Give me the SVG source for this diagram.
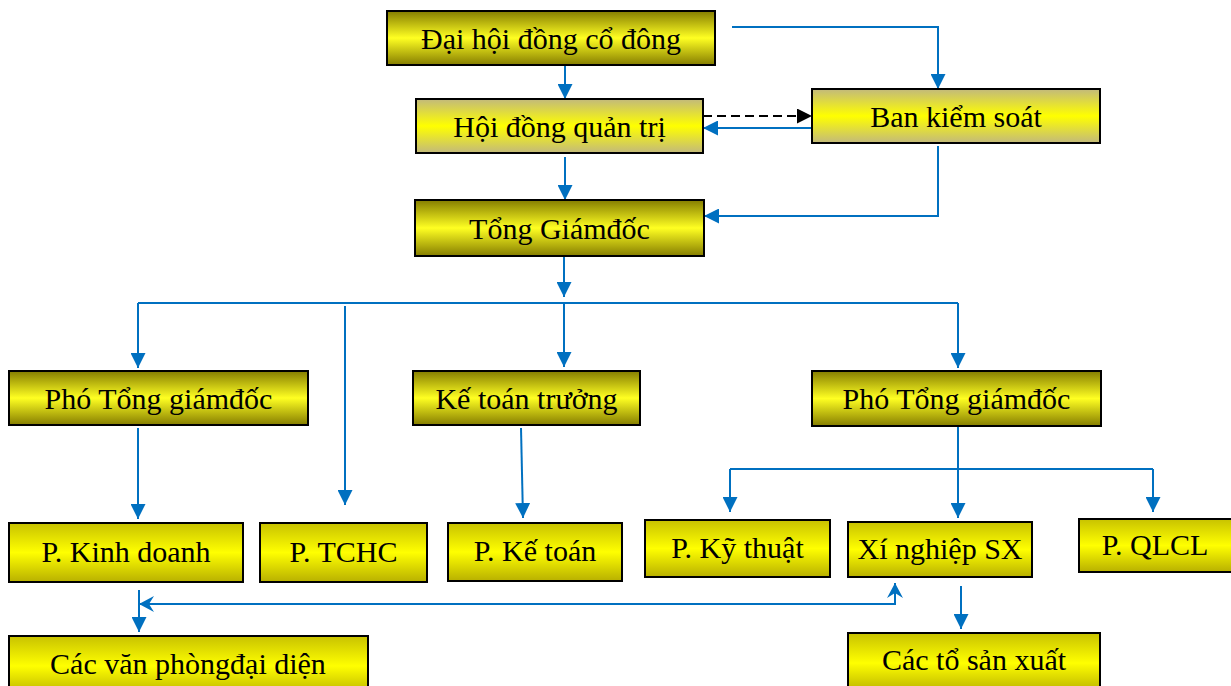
<svg xmlns="http://www.w3.org/2000/svg" width="1231" height="686" viewBox="0 0 1231 686">
<defs>
<style>
.box{stroke:#000;stroke-width:2}
.t{font-family:"Liberation Serif","Times New Roman",serif;font-size:30px;fill:#000;text-anchor:middle}
.c{fill:none;stroke:#0070c0;stroke-width:2}
.cb{marker-end:url(#ab)}
.d{fill:none;stroke:#000;stroke-width:2;stroke-dasharray:9 5;marker-end:url(#ak)}
</style>
<linearGradient id="gO" x1="0" y1="0" x2="0" y2="1">
<stop offset="0" stop-color="#857d00"/><stop offset="0.5" stop-color="#ffff22"/><stop offset="1" stop-color="#857d00"/>
</linearGradient>
<linearGradient id="gK" x1="0" y1="0" x2="0" y2="1">
<stop offset="0" stop-color="#c2b97c"/><stop offset="0.5" stop-color="#ffff00"/><stop offset="1" stop-color="#c2b97c"/>
</linearGradient>
<linearGradient id="gY" x1="0" y1="0" x2="0" y2="1">
<stop offset="0" stop-color="#c8c200"/><stop offset="0.5" stop-color="#ffff00"/><stop offset="1" stop-color="#b8b000"/>
</linearGradient>
<marker id="ab" markerUnits="userSpaceOnUse" markerWidth="15" markerHeight="15" refX="15" refY="7.5" orient="auto">
<path d="M0,0 L15,7.5 L0,15 z" fill="#0070c0"/>
</marker>
<marker id="ak" markerUnits="userSpaceOnUse" markerWidth="15" markerHeight="15" refX="15" refY="7.5" orient="auto">
<path d="M0,0 L15,7.5 L0,15 z" fill="#000"/>
</marker>
<marker id="as" markerUnits="userSpaceOnUse" markerWidth="16" markerHeight="16" refX="15" refY="8" orient="auto-start-reverse">
<path d="M0,0 L15,8 L0,16 L5,8 z" fill="#0070c0"/>
</marker>
</defs>

<g id="connectors">
<path class="c cb" d="M565 55 V99"/>
<path class="c cb" d="M732 27 H938 V89"/>
<path class="d" d="M703 116 H812"/>
<path class="c cb" d="M812 128 H703"/>
<path class="c cb" d="M938 146 V216 H704"/>
<path class="c cb" d="M565 157 V200"/>
<path class="c cb" d="M564 256 V297"/>
<path class="c" d="M138 303 H958"/>
<path class="c cb" d="M138 303 V368"/>
<path class="c cb" d="M345 306 V505"/>
<path class="c cb" d="M564 303 V367"/>
<path class="c cb" d="M958 303 V368"/>
<path class="c cb" d="M138 428 V519"/>
<path class="c cb" d="M521 428 L523 518"/>
<path class="c cb" d="M958 426 V518"/>
<path class="c" d="M730 469 H1153"/>
<path class="c cb" d="M730 469 V512"/>
<path class="c cb" d="M1153 469 V512"/>
<path class="c cb" d="M961 586 V629"/>
<path class="c cb" d="M139 590 V632"/>
<path class="c" d="M895 583 V604 H139" marker-start="url(#as)" marker-end="url(#as)"/>
</g>

<g id="n-dhdcd"><rect class="box" x="387" y="11" width="328" height="54" fill="url(#gO)"/><text class="t" x="551" y="49">Đại hội đồng cổ đông</text></g>
<g id="n-hdqt"><rect class="box" x="416" y="99" width="287" height="54" fill="url(#gK)"/><text class="t" x="559.5" y="137">Hội đồng quản trị</text></g>
<g id="n-bks"><rect class="box" x="812" y="89" width="288" height="54" fill="url(#gK)"/><text class="t" x="956" y="127">Ban kiểm soát</text></g>
<g id="n-tgd"><rect class="box" x="415" y="200" width="289" height="56" fill="url(#gO)"/><text class="t" x="559.5" y="239">Tổng Giámđốc</text></g>
<g id="n-ptgd1"><rect class="box" x="9" y="371" width="299" height="54" fill="url(#gO)"/><text class="t" x="158.5" y="409">Phó Tổng giámđốc</text></g>
<g id="n-ktt"><rect class="box" x="413" y="371" width="227" height="54" fill="url(#gO)"/><text class="t" x="526.5" y="409">Kế toán trưởng</text></g>
<g id="n-ptgd2"><rect class="box" x="812" y="371" width="289" height="55" fill="url(#gO)"/><text class="t" x="956.5" y="409">Phó Tổng giámđốc</text></g>
<g id="n-pkd"><rect class="box" x="9" y="523" width="234" height="59" fill="url(#gY)"/><text class="t" x="126" y="562">P. Kinh doanh</text></g>
<g id="n-ptchc"><rect class="box" x="260" y="523" width="167" height="59" fill="url(#gY)"/><text class="t" x="343.5" y="562">P. TCHC</text></g>
<g id="n-pkt"><rect class="box" x="448" y="523" width="174" height="58" fill="url(#gY)"/><text class="t" x="535" y="561">P. Kế toán</text></g>
<g id="n-pkth"><rect class="box" x="645" y="520" width="185" height="57" fill="url(#gY)"/><text class="t" x="737.5" y="558">P. Kỹ thuật</text></g>
<g id="n-xnsx"><rect class="box" x="848" y="522" width="184" height="55" fill="url(#gY)"/><text class="t" x="940" y="559">Xí nghiệp SX</text></g>
<g id="n-pqlcl"><rect class="box" x="1079" y="519" width="153" height="53" fill="url(#gY)"/><text class="t" x="1155" y="555">P. QLCL</text></g>
<g id="n-cvp"><rect class="box" x="9" y="636" width="359" height="60" fill="url(#gY)"/><text class="t" x="188" y="674">Các văn phòngđại diện</text></g>
<g id="n-ctsx"><rect class="box" x="848" y="633" width="252" height="60" fill="url(#gY)"/><text class="t" x="974" y="670">Các tổ sản xuất</text></g>
</svg>
